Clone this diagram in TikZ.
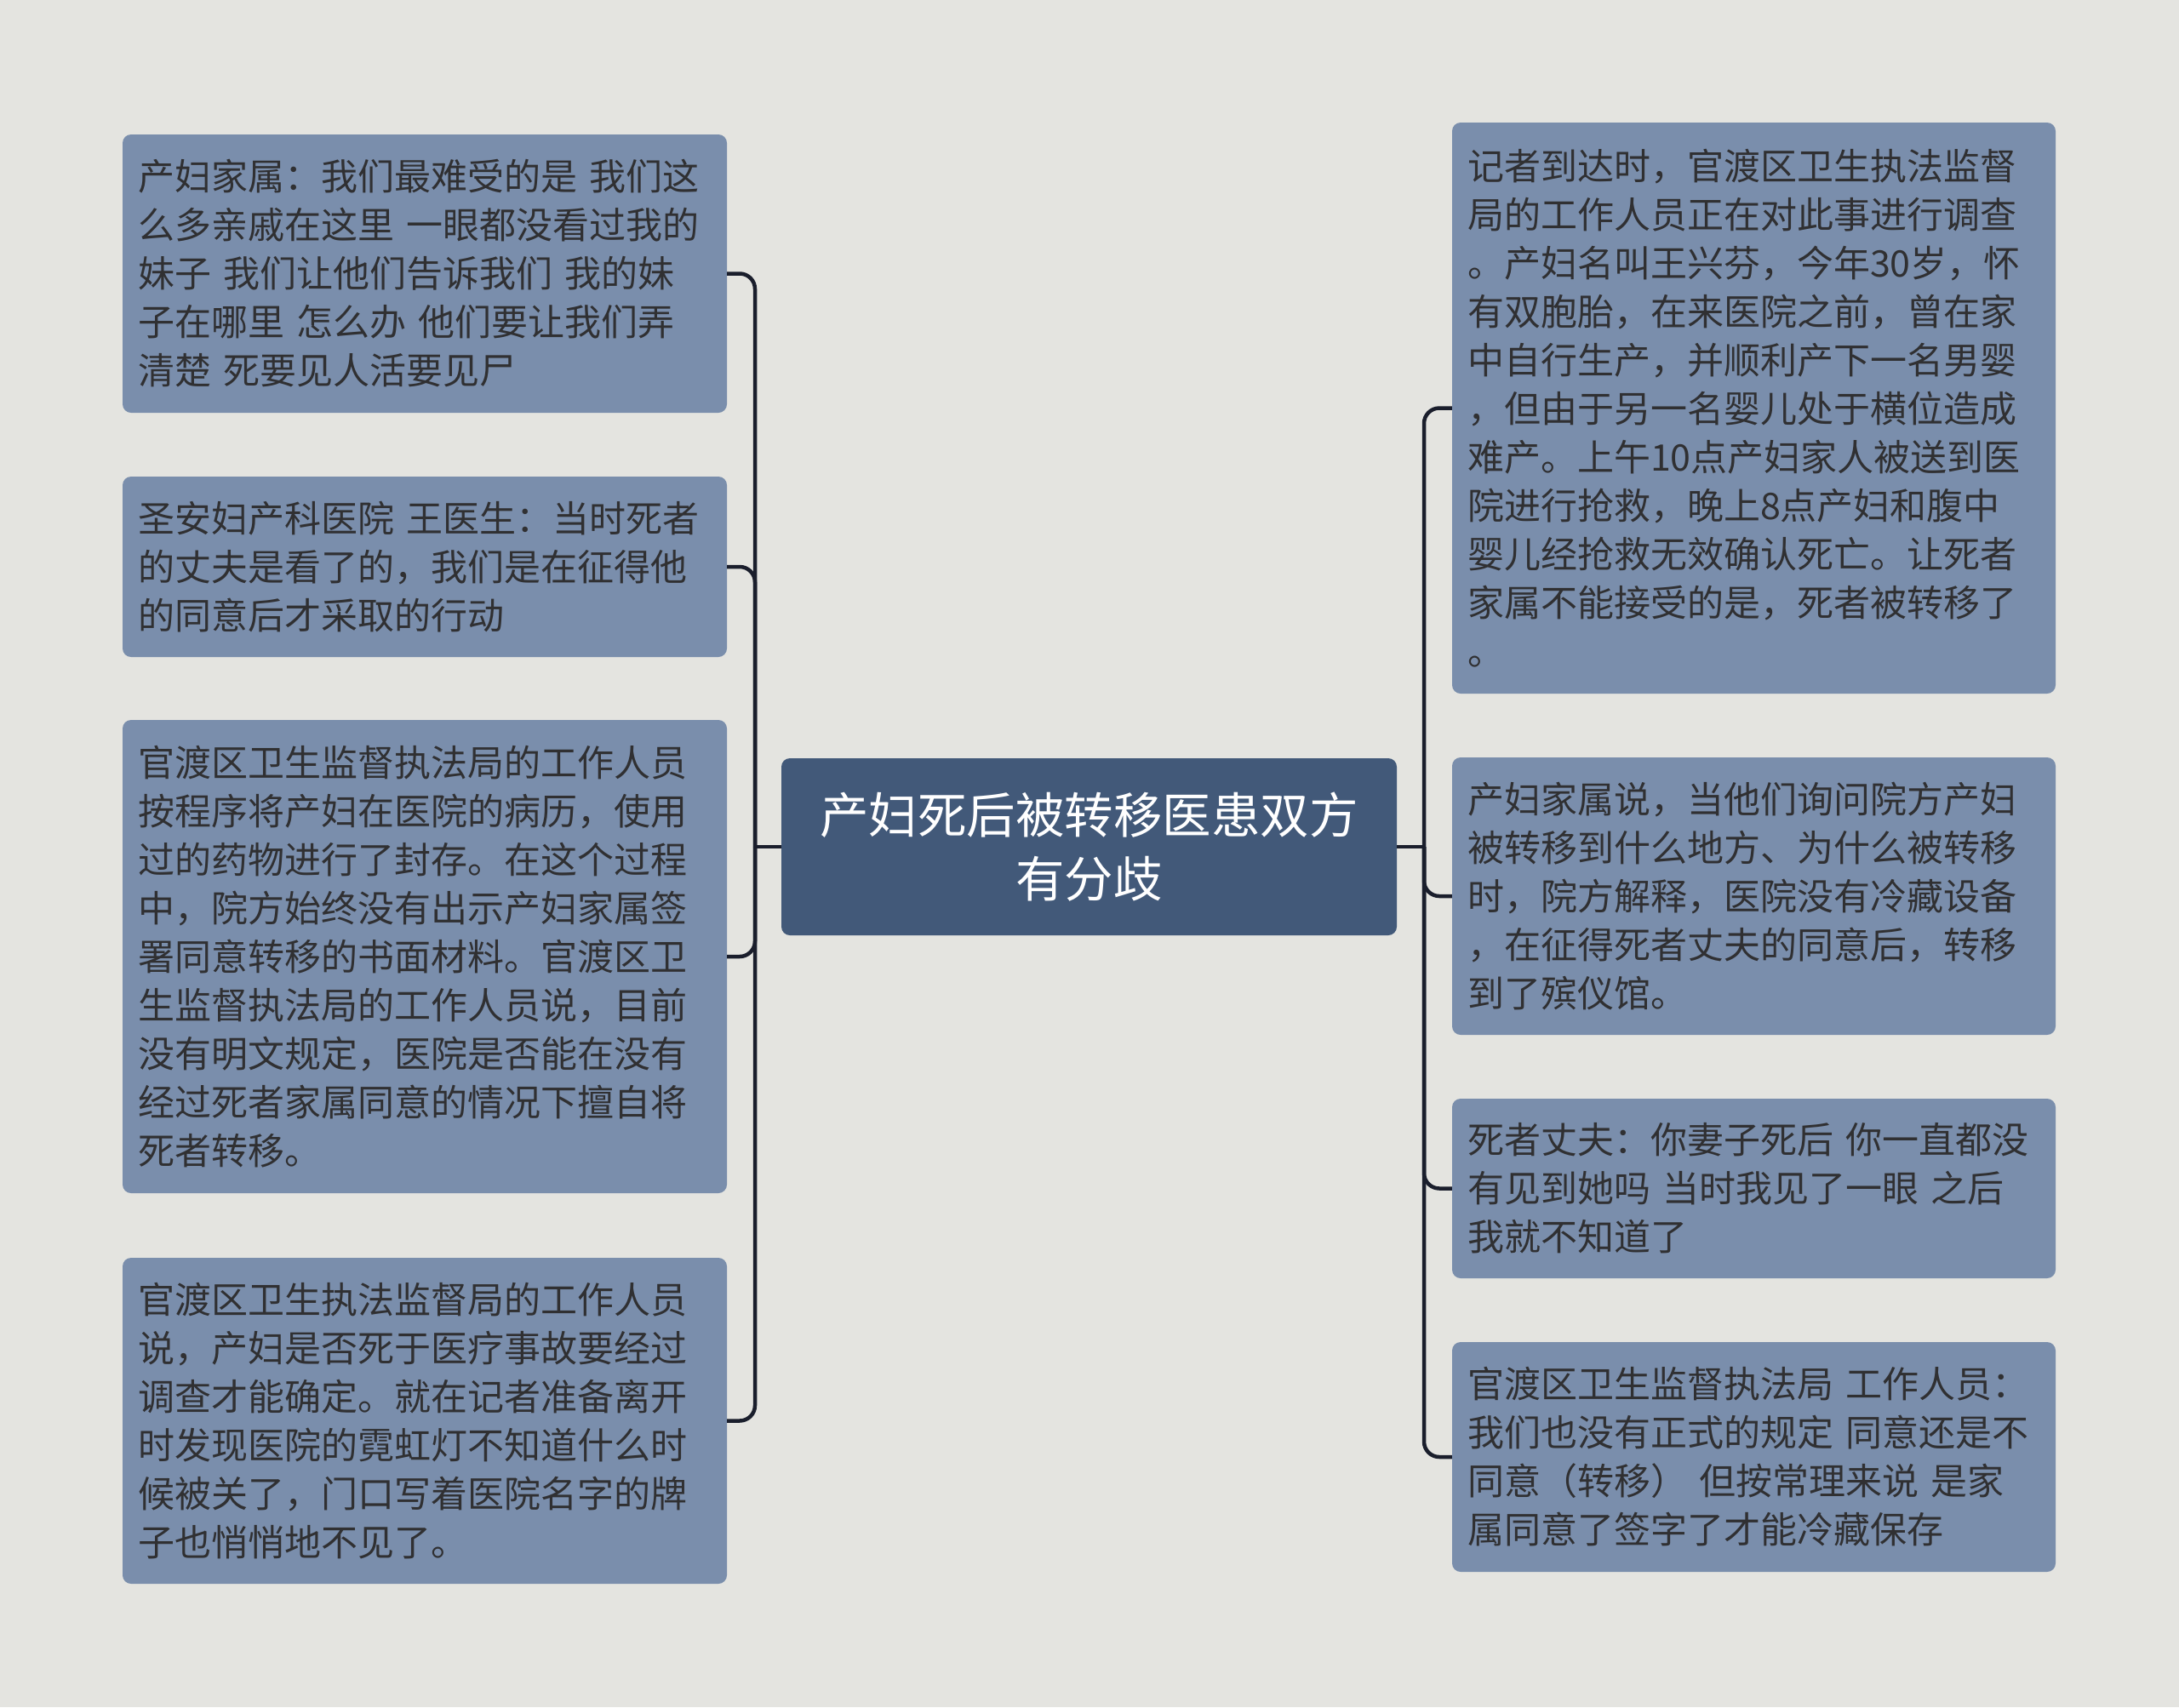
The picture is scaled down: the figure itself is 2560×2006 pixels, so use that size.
\documentclass[tikz,border=0pt]{standalone}
\usepackage{fontspec}
\setmainfont{Noto Sans CJK SC}
\definecolor{bgc}{RGB}{228,228,224}
\definecolor{boxc}{RGB}{122,142,172}
\definecolor{mainc}{RGB}{66,89,121}
\definecolor{txtc}{RGB}{48,48,50}
\definecolor{linec}{RGB}{26,30,44}
\tikzset{
  leaf/.style={fill=boxc, rounded corners=10pt, inner sep=0pt, align=left,
    text=txtc, font=\fontsize{43}{57}\selectfont, anchor=center},
  root/.style={fill=mainc, rounded corners=10pt, inner sep=0pt, align=center,
    text=white, font=\fontsize{57.5}{75}\selectfont, anchor=center},
  conn/.style={draw=linec, line width=4.5pt, rounded corners=18pt}
}
\begin{document}
\begin{tikzpicture}[x=1pt,y=-1pt]
\fill[bgc] (0,0) rectangle (2560,2006);
\useasboundingbox (0,0) rectangle (2560,2006);
% root
\node[root, minimum width=723pt, minimum height=208pt] (c) at (1279.5,995) {产妇死后被转移医患双方\\有分歧};
% left
\node[leaf, minimum width=710pt, minimum height=327pt, text width=674pt] (l1) at (499,321.5) {产妇家属：我们最难受的是 我们这\\么多亲戚在这里 一眼都没看过我的\\妹子 我们让他们告诉我们 我的妹\\子在哪里 怎么办 他们要让我们弄\\清楚 死要见人活要见尸};
\node[leaf, minimum width=710pt, minimum height=212pt, text width=674pt] (l2) at (499,666) {圣安妇产科医院 王医生：当时死者\\的丈夫是看了的，我们是在征得他\\的同意后才采取的行动};
\node[leaf, minimum width=710pt, minimum height=556pt, text width=674pt] (l3) at (499,1124) {官渡区卫生监督执法局的工作人员\\按程序将产妇在医院的病历，使用\\过的药物进行了封存。在这个过程\\中，院方始终没有出示产妇家属签\\署同意转移的书面材料。官渡区卫\\生监督执法局的工作人员说，目前\\没有明文规定，医院是否能在没有\\经过死者家属同意的情况下擅自将\\死者转移。};
\node[leaf, minimum width=710pt, minimum height=383pt, text width=674pt] (l4) at (499,1669.5) {官渡区卫生执法监督局的工作人员\\说，产妇是否死于医疗事故要经过\\调查才能确定。就在记者准备离开\\时发现医院的霓虹灯不知道什么时\\候被关了，门口写着医院名字的牌\\子也悄悄地不见了。};
% right
\node[leaf, minimum width=709pt, minimum height=671pt, text width=673pt] (r1) at (2060.5,479.5) {记者到达时，官渡区卫生执法监督\\局的工作人员正在对此事进行调查\\。产妇名叫王兴芬，今年30岁，怀\\有双胞胎，在来医院之前，曾在家\\中自行生产，并顺利产下一名男婴\\，但由于另一名婴儿处于横位造成\\难产。上午10点产妇家人被送到医\\院进行抢救，晚上8点产妇和腹中\\婴儿经抢救无效确认死亡。让死者\\家属不能接受的是，死者被转移了\\。};
\node[leaf, minimum width=709pt, minimum height=326pt, text width=673pt] (r2) at (2060.5,1053) {产妇家属说，当他们询问院方产妇\\被转移到什么地方、为什么被转移\\时，院方解释，医院没有冷藏设备\\，在征得死者丈夫的同意后，转移\\到了殡仪馆。};
\node[leaf, minimum width=709pt, minimum height=211pt, text width=673pt] (r3) at (2060.5,1396.5) {死者丈夫：你妻子死后 你一直都没\\有见到她吗 当时我见了一眼 之后\\我就不知道了};
\node[leaf, minimum width=709pt, minimum height=270pt, text width=673pt] (r4) at (2060.5,1712) {官渡区卫生监督执法局 工作人员：\\我们也没有正式的规定 同意还是不\\同意（转移） 但按常理来说 是家\\属同意了签字了才能冷藏保存};
% trunks
\coordinate (LT) at (887,995);
\coordinate (RT) at (1673,995);
\draw[conn] (c.west) -- (LT);
\draw[conn] (c.east) -- (RT);
\foreach \n in {l1,l2,l3,l4} \draw[conn] (\n.east) -| (LT);
\foreach \n in {r1,r2,r3,r4} \draw[conn] (\n.west) -| (RT);
\end{tikzpicture}
\end{document}
